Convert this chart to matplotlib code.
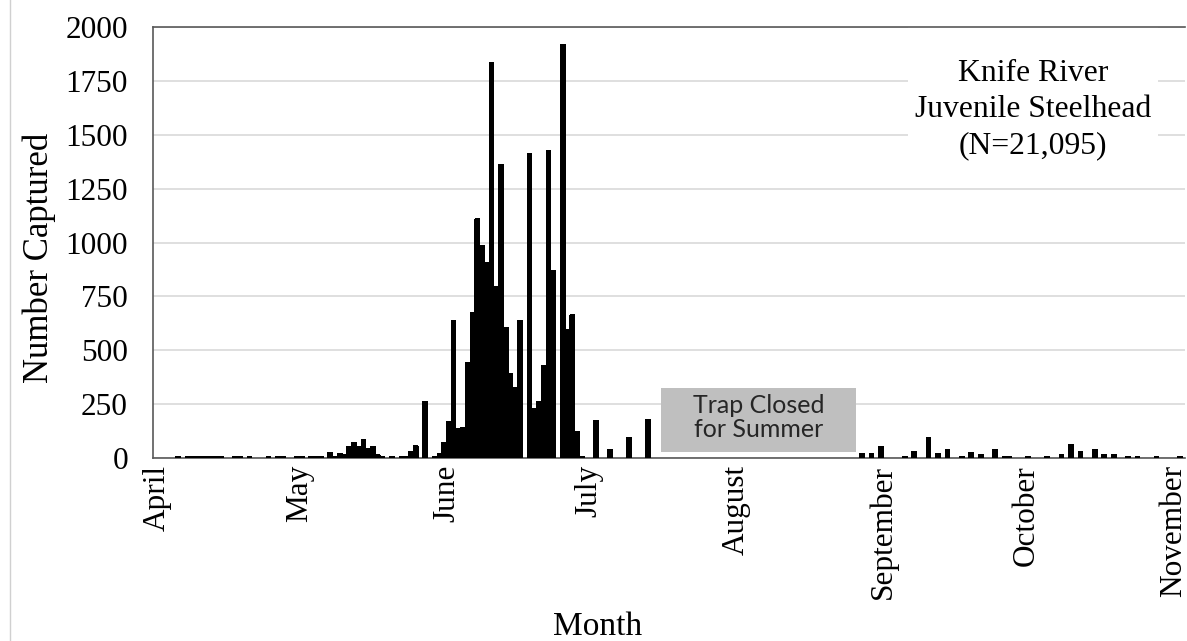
import matplotlib
matplotlib.use("Agg")
import matplotlib.pyplot as plt
from matplotlib.patches import Rectangle
from matplotlib.lines import Line2D
import pandas as pd
import numpy as np

# ---- data ----
dates = [
    "04-05", "04-07", "04-08", "04-09", "04-10", "04-11", "04-12", "04-13", "04-14",
    "04-17", "04-18", "04-20", "04-24", "04-26", "04-27", "04-30",
    "05-01", "05-03", "05-04", "05-05", "05-07", "05-08", "05-09", "05-10", "05-11",
    "05-12", "05-13", "05-14", "05-15", "05-16", "05-17", "05-18", "05-20", "05-22",
    "05-23", "05-24", "05-25", "05-27", "05-29", "05-30", "05-31",
    "06-01", "06-02", "06-03", "06-04", "06-05", "06-06", "06-07", "06-08", "06-09",
    "06-10", "06-11", "06-12", "06-13", "06-14", "06-15", "06-16", "06-18", "06-19",
    "06-20", "06-21", "06-22", "06-23", "06-25", "06-26", "06-27", "06-28", "06-29",
    "07-02", "07-05", "07-09", "07-13",
    "08-27", "08-29", "08-31",
    "09-05", "09-07", "09-10", "09-12", "09-14", "09-17", "09-19", "09-21", "09-24",
    "09-26", "09-27",
    "10-01", "10-05", "10-08", "10-10", "10-12", "10-15", "10-17", "10-19", "10-22",
    "10-24", "10-28", "11-02",
]
counts = [
    6, 6, 6, 6, 6, 6, 6, 6, 6,
    6, 6, 6, 6, 6, 6, 8,
    8, 8, 8, 8, 26, 8, 20, 15, 53,
    73, 53, 84, 45, 53, 15, 8, 8, 8,
    8, 31, 60, 263, 8, 20, 71,
    170, 640, 136, 141, 444, 674, 1111, 984, 908,
    1833, 798, 1361, 605, 391, 326, 640, 1414, 229,
    264, 431, 1425, 868, 1920, 594, 664, 122, 8,
    175, 39, 95, 178,
    20, 20, 54,
    8, 31, 94, 20, 39, 8, 26, 15, 39,
    8, 8,
    6, 6, 15, 62, 31, 39, 15, 15, 8,
    8, 8, 8,
]
month_labels = ["April", "May", "June", "July", "August", "September", "October", "November"]
month_starts = ["04-01", "05-01", "06-01", "07-01", "08-01", "09-01", "10-01", "11-01"]
note_lines = ["Knife River", "Juvenile Steelhead", "(N=21,095)"]
closed_text = "Trap Closed\nfor Summer"
closed_start, closed_end = "07-16", "08-26"

year = 2013
origin = pd.Timestamp(f"{year}-04-01")
def day_index(md):
    return (pd.Timestamp(f"{year}-{md}") - origin).days

x = np.array([day_index(d) for d in dates]) + 0.5
ticks = [day_index(d) for d in month_starts]

# ---- figure ----
fig = plt.figure(figsize=(11.87, 6.41), dpi=100)
ax = fig.add_axes([153 / 1187, 1 - 458 / 641, (1185 - 153) / 1187, (458 - 27) / 641])

serif = ["Liberation Serif", "DejaVu Serif"]

bars = ax.bar(x, counts, width=1.0, color="black", linewidth=0, zorder=3)
for b in bars:
    b.set_snap(False)
    b.set_antialiased(False)

ax.set_xlim(-0.8, 216.5)
ax.set_ylim(0, 2000)
ax.set_yticks(np.arange(0, 2001, 250))
ax.yaxis.grid(True, color="#d9d9d9", linewidth=1.2, zorder=0)
ax.set_axisbelow(True)

ax.set_xticks(ticks)
ax.set_xticklabels(month_labels, rotation=90, ha="center", va="top",
                   fontsize=22.5, family=serif)
for lbl in ax.get_yticklabels():
    lbl.set_family(serif)
    lbl.set_fontsize(22.5)
ax.tick_params(axis="both", length=0)
ax.tick_params(axis="y", pad=18)
ax.tick_params(axis="x", pad=5)

for s in ax.spines.values():
    s.set_color("#595959")
    s.set_linewidth(1.2)
ax.spines["right"].set_visible(False)

ax.set_ylabel("Number Captured", fontsize=25, family=serif)
ax.yaxis.set_label_coords(-0.094, 0.464)
ax.set_xlabel("Month", fontsize=24, family=serif)
ax.xaxis.set_label_coords(0.431, -0.355)

# trap closed box
c0 = day_index(closed_start) + 0.1
c1 = day_index(closed_end) + 0.3
ax.add_patch(Rectangle((c0, 26), c1 - c0, 301, facecolor="#bfbfbf",
                       edgecolor="none", zorder=4))
ax.text((c0 + c1) / 2, 186, closed_text, ha="center", va="center",
        fontsize=18, family=["Lato", "DejaVu Sans"], color="#262626",
        linespacing=1.05, zorder=5)

# note box
ax.add_patch(Rectangle((158.2, 1367), 52.6, 632, facecolor="white",
                       edgecolor="none", zorder=2))
ax.text(184.5, 1618, "\n".join(note_lines), ha="center", va="center",
        fontsize=22.8, family=serif, linespacing=1.32, zorder=5)

# left border line of chart area
fig.add_artist(Line2D([10 / 1187, 10 / 1187], [0, 1], color="#d0d0d0",
                      linewidth=1, transform=fig.transFigure))

fig.savefig("out.png", dpi=100)
